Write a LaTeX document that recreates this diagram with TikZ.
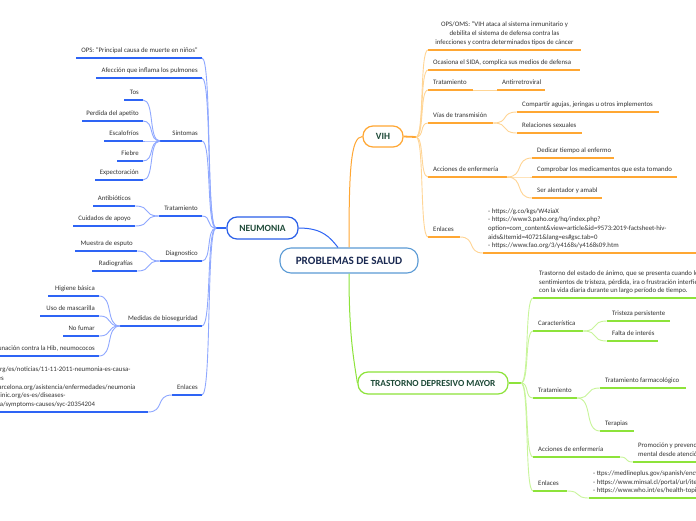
\documentclass[tikz,border=0pt]{standalone}
\usepackage{fontspec}
\setmainfont{Carlito}
\usetikzlibrary{calc}
\definecolor{txt}{HTML}{333333}
\definecolor{navy}{HTML}{1B2A52}
\definecolor{dgreen}{HTML}{1E4A38}
\definecolor{cblue}{HTML}{5B9BD5}
\definecolor{nblue}{HTML}{2A5FE8}
\definecolor{blueU}{HTML}{2E64F5}
\definecolor{blueC}{HTML}{8FA8FF}
\definecolor{orangeU}{HTML}{FFA733}
\definecolor{orangeC}{HTML}{FFD595}
\definecolor{greenU}{HTML}{8DE33A}
\definecolor{greenC}{HTML}{C8F59A}
\tikzset{
  lbl/.style={font=\fontsize{6.8}{8.6}\selectfont, text=txt, inner sep=0pt},
  bu/.style={draw=blueU, line width=1.8pt},
  bc/.style={draw=blueC, line width=0.9pt},
  ou/.style={draw=orangeU, line width=1.8pt},
  oc/.style={draw=orangeC, line width=0.9pt},
  gu/.style={draw=greenU, line width=1.8pt},
  gc/.style={draw=greenC, line width=0.9pt},
  topic/.style={rounded corners=10pt, line width=1.2pt, inner sep=0pt,
    font=\bfseries\fontsize{9.5}{11}\selectfont, text=dgreen},
}
% leaf on the left side: underline from x1 to x2 at y, text right-aligned
\newcommand{\lleaf}[6]{%
  \coordinate (#1-l) at (#3,#5);
  \coordinate (#1-r) at (#4,#5);
  \draw[#2] (#1-l) -- (#1-r);
  \node[lbl, anchor=base east] (#1) at (#4-4,#5-6) {#6};}
% leaf on the right side: text left-aligned
\newcommand{\rleaf}[6]{%
  \coordinate (#1-l) at (#3,#5);
  \coordinate (#1-r) at (#4,#5);
  \draw[#2] (#1-l) -- (#1-r);
  \node[lbl, anchor=base west] (#1) at (#3+5,#5-6) {#6};}
% underline only
\newcommand{\uline}[5]{%
  \coordinate (#1-l) at (#3,#5);
  \coordinate (#1-r) at (#4,#5);
  \draw[#2] (#1-l) -- (#1-r);}
% smooth connector
\newcommand{\con}[3]{%
  \draw[#1] (#2) .. controls ($(#2)!0.7!(#2 -| #3)$) and ($(#3)!0.7!(#3 -| #2)$) .. (#3);}
\begin{document}
\begin{tikzpicture}[x=1pt,y=-1pt]
\useasboundingbox[fill=white] (0,0) rectangle (696,520);

% ---------- central and main topics ----------
\node[draw=cblue, line width=1.1pt, rounded corners=11pt, minimum width=138pt,
  minimum height=25pt, inner sep=0pt, font=\bfseries\fontsize{11.2}{13}\selectfont,
  text=navy] (pb) at (349,260.5) {PROBLEMAS DE SALUD};
\node[topic, draw=nblue, minimum width=71pt, minimum height=22pt] (neu) at (262.5,228) {NEUMONIA};
\node[topic, draw=orangeU, minimum width=40pt, minimum height=21pt] (vih) at (383,136.5) {VIH};
\node[topic, draw=greenU, minimum width=150pt, minimum height=22pt,
  font=\bfseries\fontsize{9.3}{11}\selectfont] (tdm) at (433,383) {TRASTORNO DEPRESIVO MAYOR};

\coordinate (pbn1) at ($(pb.north)+(-11,0)$);
\draw[draw=blueU, line width=1pt] (neu.east) .. controls +(24,0) and +(-8,-10) .. (pbn1);
\draw[draw=orangeU, line width=1pt] (pb.north) .. controls +(0,-75) and +(-12,0) .. (vih.west);
\draw[draw=greenU, line width=1pt] (pb.south) .. controls +(0,60) and +(-4,-25) .. (tdm.west);

% ---------- NEUMONIA ----------
\coordinate (nhub) at (216,228);
\draw[bu] (nhub) -- (neu.west);
\lleaf{ops}{bu}{76}{202}{58}{OPS: "Principal causa de muerte en niños"}
\lleaf{afe}{bu}{96}{202}{78}{Afección que inflama los pulmones}
\lleaf{sin}{bu}{160}{202}{141}{Síntomas}
\lleaf{tos}{bu}{124}{143}{100}{Tos}
\lleaf{per}{bu}{82}{143}{121}{Perdida del apetito}
\lleaf{esc}{bu}{104}{143}{141}{Escalofríos}
\lleaf{fie}{bu}{117}{143}{161}{Fiebre}
\lleaf{exp}{bu}{95}{143}{180}{Expectoración}
\lleaf{tra}{bu}{159}{202}{216}{Tratamiento}
\lleaf{ant}{bu}{93}{135}{206}{Antibióticos}
\lleaf{cui}{bu}{73}{135}{226}{Cuidados de apoyo}
\lleaf{dia}{bu}{160}{202}{261}{Diagnostico}
\lleaf{mue}{bu}{75}{137}{251}{Muestra de esputo}
\lleaf{rad}{bu}{92}{137}{271}{Radiografías}
\lleaf{med}{bu}{120}{202}{326}{Medidas de bioseguridad}
\lleaf{hig}{bu}{48}{99}{296}{Higiene básica}
\lleaf{uso}{bu}{40}{99}{316}{Uso de mascarilla}
\lleaf{nof}{bu}{63}{99}{336}{No fumar}
\lleaf{vac}{bu}{-40}{99}{356}{Vacunación contra la Hib, neumococos}
\lleaf{enl}{bu}{172}{202}{395}{Enlaces}
\uline{nlk}{bu}{-10}{148}{412}
\node[lbl, anchor=south west, align=left] (nlinks) at (-60,407.5)
 {- https://www.paho.org/es/noticias/11-11-2011-neumonia-es-causa-\\
  principal-de-muerte-es\\
  - https://www.clinicbarcelona.org/asistencia/enfermedades/neumonia\\
  - https://www.mayoclinic.org/es-es/diseases-\\
  conditions/pneumonia/symptoms-causes/syc-20354204};

\foreach \c in {ops,afe,sin,tra,dia,med,enl} {\con{bc}{\c-r}{nhub}}
\foreach \c in {tos,per,esc,fie,exp} {\con{bc}{\c-r}{sin-l}}
\foreach \c in {ant,cui} {\con{bc}{\c-r}{tra-l}}
\foreach \c in {mue,rad} {\con{bc}{\c-r}{dia-l}}
\foreach \c in {hig,uso,nof,vac} {\con{bc}{\c-r}{med-l}}
\con{bc}{nlk-r}{enl-l}

% ---------- VIH ----------
\coordinate (vhub) at (416,137);
\draw[ou] (vih.east) -- (vhub);
\uline{vops}{ou}{428}{581}{50}
\node[lbl, anchor=south, align=center] (vopst) at (504.5,45.3)
 {OPS/OMS: "VIH ataca al sistema inmunitario y\\
  debilita el sistema de defensa contra las\\
  infecciones y contra determinados tipos de cáncer};
\rleaf{oca}{ou}{428}{580}{70}{Ocasiona el SIDA, complica sus medios de defensa}
\rleaf{trv}{ou}{428}{473}{90}{Tratamiento}
\rleaf{arv}{ou}{497}{545}{90}{Antirretroviral}
\rleaf{via}{ou}{428}{493}{123}{Vías de transmisión}
\rleaf{com}{ou}{517}{659}{112}{Compartir agujas, jeringas u otros implementos}
\rleaf{rel}{ou}{517}{582}{133}{Relaciones sexuales}
\rleaf{acc}{ou}{428}{507}{177}{Acciones de enfermería}
\rleaf{ded}{ou}{532}{614}{158}{Dedicar tiempo al enfermo}
\rleaf{cmp}{ou}{532}{677}{177}{Comprobar los medicamentos que esta tomando}
\rleaf{ser}{ou}{532}{602}{198}{Ser alentador y amabl}
\rleaf{env}{ou}{428}{460}{237}{Enlaces}
\uline{vlk}{ou}{483}{700}{253}
\node[lbl, anchor=south west, align=left] (vlinks) at (488,249)
 {- https://g.co/kgs/W4ziaX\\
  - https://www3.paho.org/hq/index.php?\\
  option=com\_content\&view=article\&id=9573:2019-factsheet-hiv-\\
  aids\&Itemid=40721\&lang=es\#gsc.tab=0\\
  - https://www.fao.org/3/y4168s/y4168s09.htm};

\foreach \c in {vops,oca,trv,via,acc,env} {\con{oc}{vhub}{\c-l}}
\draw[oc] (trv-r) -- (arv-l);
\foreach \c in {com,rel} {\con{oc}{via-r}{\c-l}}
\foreach \c in {ded,cmp,ser} {\con{oc}{acc-r}{\c-l}}
\con{oc}{env-r}{vlk-l}

% ---------- TRASTORNO DEPRESIVO MAYOR ----------
\coordinate (thub) at (521,383);
\draw[gu] (tdm.east) -- (thub);
\uline{des}{gu}{533}{700}{298}
\node[lbl, anchor=south west, align=left] (dest) at (539,294)
 {Trastorno del estado de ánimo, que se presenta cuando los\\
  sentimientos de tristeza, pérdida, ira o frustración interfieren\\
  con la vida diaria durante un largo período de tiempo.};
\rleaf{car}{gu}{533}{583}{331}{Característica}
\rleaf{tri}{gu}{607}{670}{321}{Tristeza persistente}
\rleaf{fal}{gu}{607}{658}{341}{Falta de interés}
\rleaf{trt}{gu}{533}{577}{398}{Tratamiento}
\rleaf{far}{gu}{600}{686}{388}{Tratamiento farmacológico}
\rleaf{ter}{gu}{600}{634}{431}{Terapias}
\rleaf{acg}{gu}{533}{620}{457}{Acciones de enfermería}
\uline{pro}{gu}{633}{700}{462}
\node[lbl, anchor=south west, align=left] (prot) at (638,457.3)
 {Promoción y prevención en salud\\
  mental desde atención primaria};
\rleaf{eng}{gu}{533}{567}{491}{Enlaces}
\uline{glk}{gu}{589}{700}{498}
\node[lbl, anchor=south west, align=left] (glinks) at (593,494)
 {- ttps://medlineplus.gov/spanish/ency/article/000945.htm\\
  - https://www.minsal.cl/portal/url/item/depresion\\
  - https://www.who.int/es/health-topics/depression};

\foreach \c in {des,car,trt,acg,eng} {\con{gc}{thub}{\c-l}}
\foreach \c in {tri,fal} {\con{gc}{car-r}{\c-l}}
\foreach \c in {far,ter} {\con{gc}{trt-r}{\c-l}}
\con{gc}{acg-r}{pro-l}
\con{gc}{eng-r}{glk-l}
\end{tikzpicture}
\end{document}
